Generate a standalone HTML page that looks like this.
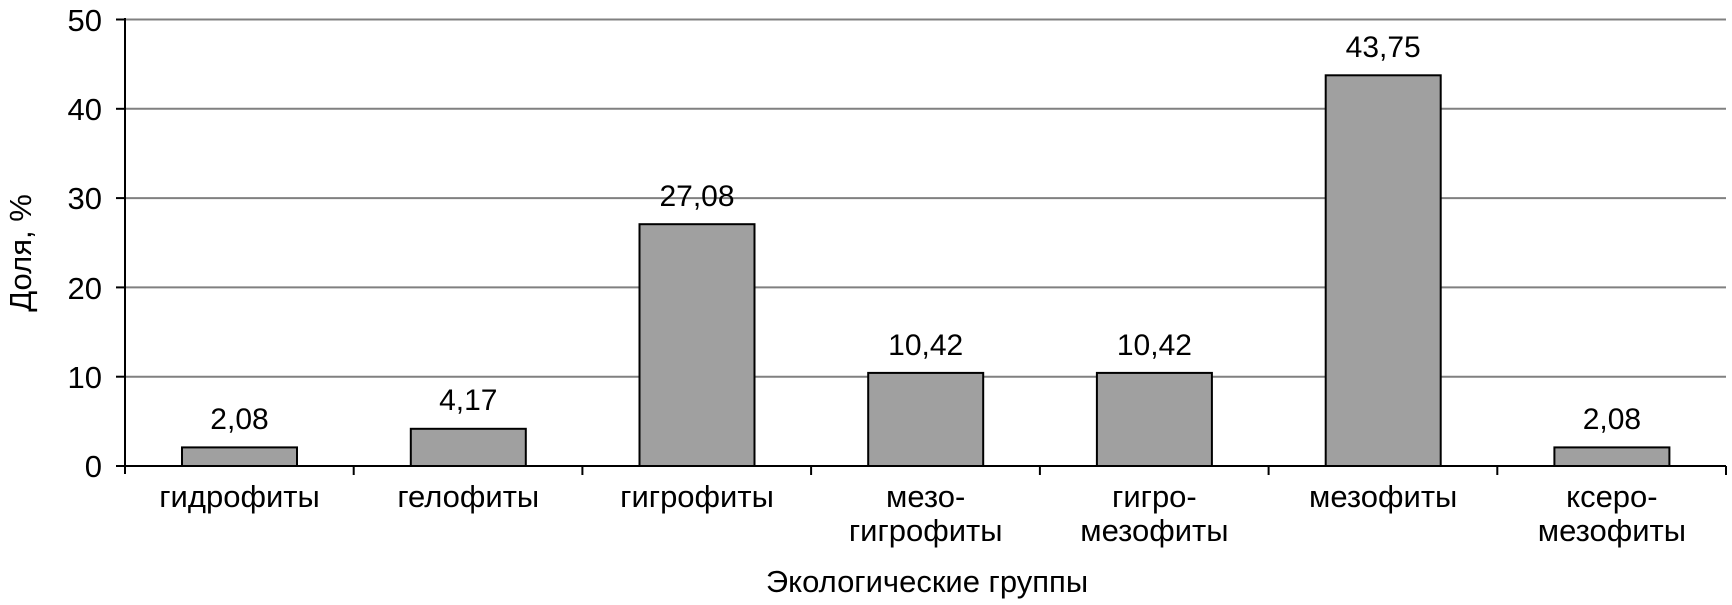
<!DOCTYPE html>
<html><head><meta charset="utf-8"><style>
html,body{margin:0;padding:0;background:#fff;}
svg{display:block;font-family:"Liberation Sans",Arial,sans-serif;}
</style></head><body>
<svg width="1732" height="605" viewBox="0 0 1732 605" xmlns="http://www.w3.org/2000/svg">
<g stroke="#808080" stroke-width="2">
<line x1="125" y1="19.5" x2="1726" y2="19.5"/>
<line x1="125" y1="108.8" x2="1726" y2="108.8"/>
<line x1="125" y1="198.1" x2="1726" y2="198.1"/>
<line x1="125" y1="287.4" x2="1726" y2="287.4"/>
<line x1="125" y1="376.7" x2="1726" y2="376.7"/>
</g>
<g stroke="#000" stroke-width="2">
<line x1="125" y1="18" x2="125" y2="474"/>
<line x1="116" y1="466" x2="1726" y2="466"/>
<line x1="116" y1="19.5" x2="125" y2="19.5"/>
<line x1="116" y1="108.8" x2="125" y2="108.8"/>
<line x1="116" y1="198.1" x2="125" y2="198.1"/>
<line x1="116" y1="287.4" x2="125" y2="287.4"/>
<line x1="116" y1="376.7" x2="125" y2="376.7"/>
<line x1="353.7" y1="466" x2="353.7" y2="475"/>
<line x1="582.4" y1="466" x2="582.4" y2="475"/>
<line x1="811.1" y1="466" x2="811.1" y2="475"/>
<line x1="1039.9" y1="466" x2="1039.9" y2="475"/>
<line x1="1268.6" y1="466" x2="1268.6" y2="475"/>
<line x1="1497.3" y1="466" x2="1497.3" y2="475"/>
<line x1="1726" y1="466" x2="1726" y2="475"/>
</g>
<g fill="#a0a0a0" stroke="#000" stroke-width="2">
<rect x="182" y="447.4" width="115" height="18.6"/>
<rect x="410.8" y="428.8" width="115" height="37.2"/>
<rect x="639.5" y="224.2" width="115" height="241.8"/>
<rect x="868.2" y="372.9" width="115" height="93.1"/>
<rect x="1096.9" y="372.9" width="115" height="93.1"/>
<rect x="1325.7" y="75.3" width="115" height="390.7"/>
<rect x="1554.4" y="447.4" width="115" height="18.6"/>
</g>
<g font-size="31" fill="#000" text-anchor="end">
<text x="102" y="31">50</text>
<text x="102" y="120">40</text>
<text x="102" y="209">30</text>
<text x="102" y="299">20</text>
<text x="102" y="388">10</text>
<text x="102" y="477">0</text>
</g>
<g font-size="30" fill="#000" text-anchor="middle">
<text x="239.5" y="429">2,08</text>
<text x="468.3" y="410">4,17</text>
<text x="697" y="206">27,08</text>
<text x="925.7" y="355">10,42</text>
<text x="1154.4" y="355">10,42</text>
<text x="1383.2" y="57">43,75</text>
<text x="1611.9" y="429">2,08</text>
</g>
<g font-size="31" fill="#000" text-anchor="middle">
<text x="239.5" y="507">гидрофиты</text>
<text x="468.3" y="507">гелофиты</text>
<text x="697" y="507">гигрофиты</text>
<text x="925.7" y="507">мезо-</text>
<text x="925.7" y="541">гигрофиты</text>
<text x="1154.4" y="507">гигро-</text>
<text x="1154.4" y="541">мезофиты</text>
<text x="1383.2" y="507">мезофиты</text>
<text x="1611.9" y="507">ксеро-</text>
<text x="1611.9" y="541">мезофиты</text>
<text x="927" y="592">Экологические группы</text>
<text transform="translate(31,253) rotate(-90)">Доля, %</text>
</g>
</svg>
</body></html>
